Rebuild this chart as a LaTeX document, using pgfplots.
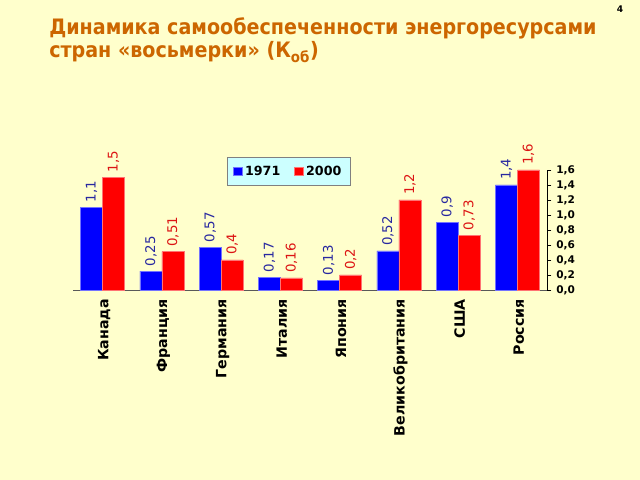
\documentclass[border=0pt]{standalone}
\usepackage{pgfplots}
\pgfplotsset{compat=1.18}
\usepackage{fontspec}
\setmainfont{DejaVu Sans}
\newfontfamily\titlefont{DejaVu Sans Condensed}
\definecolor{bgy}{RGB}{255,255,204}
\definecolor{ttl}{RGB}{204,102,0}
\definecolor{bblue}{RGB}{0,0,255}
\definecolor{bred}{RGB}{255,0,0}
\definecolor{lblue}{RGB}{40,40,160}
\definecolor{lred}{RGB}{220,20,20}
\definecolor{legfill}{RGB}{204,255,255}
\begin{document}
\begin{tikzpicture}[x=0.025cm,y=0.025cm]
\fill[bgy] (0,0) rectangle (640,480);
\node[anchor=north west, text=ttl, font=\titlefont\bfseries\fontsize{15.1}{16.5}\selectfont, align=left, inner sep=0pt] at (49,463) {Динамика самообеспеченности энергоресурсами\\стран «восьмерки» (К\textsubscript{об})};
\node[font=\bfseries\fontsize{6.5}{8}\selectfont] at (620,471) {4};
\begin{axis}[
  at={(1.825cm,4.75cm)}, anchor=south west,
  width=11.85cm, height=3cm, scale only axis,
  ybar=0pt, bar width=0.55cm,
  xmin=-0.5, xmax=7.5, ymin=0, ymax=1.6,
  axis x line*=bottom, axis y line*=right,
  x axis line style={draw=gray!70!black},
  y axis line style={draw=black},
  xtick={0,...,7},
  xticklabels={Канада,Франция,Германия,Италия,Япония,Великобритания,США,Россия},
  x tick label style={rotate=90, anchor=east, font=\bfseries\fontsize{10.1}{12}\selectfont, yshift=-1pt},
  major x tick style={draw=none},
  extra x ticks={0.5,1.5,2.5,3.5,4.5,5.5,6.5},
  extra x tick labels={},
  extra x tick style={tick style={draw=gray!70!black}, major tick length=4pt},
  xtick pos=bottom, tick align=outside,
  ytick={0,0.2,...,1.6},
  ytick pos=right,
  y tick style={draw=black}, major tick length=3pt,
  y tick label style={font=\bfseries\fontsize{7.5}{9}\selectfont, /pgf/number format/fixed, /pgf/number format/fixed zerofill, /pgf/number format/precision=1, /pgf/number format/use comma},
  /pgf/number format/assume math mode=true,
  nodes near coords,
  nodes near coords style={rotate=90, anchor=west, font=\fontsize{9.5}{11}\selectfont, /pgf/number format/use comma, /pgf/number format/precision=2},
  clip=false,
  legend style={at={(0.455,1.108)}, anchor=north, legend columns=2, fill=legfill, draw=gray, font=\bfseries\fontsize{9}{11}\selectfont, inner xsep=4pt, inner ysep=4pt, /tikz/every even column/.append style={column sep=8pt}},
  legend image code/.code={\fill[#1] (0pt,-3pt) rectangle (6pt,3pt);},
]
\addplot[fill=bblue, draw=blue!55!white, nodes near coords style={text=lblue}] coordinates {(0,1.1) (1,0.25) (2,0.57) (3,0.17) (4,0.13) (5,0.52) (6,0.9) (7,1.4)};
\addplot[fill=bred, draw=red!55!white, nodes near coords style={text=lred}] coordinates {(0,1.5) (1,0.51) (2,0.4) (3,0.16) (4,0.2) (5,1.2) (6,0.73) (7,1.6)};
\legend{1971,2000}
\end{axis}
\end{tikzpicture}
\end{document}
